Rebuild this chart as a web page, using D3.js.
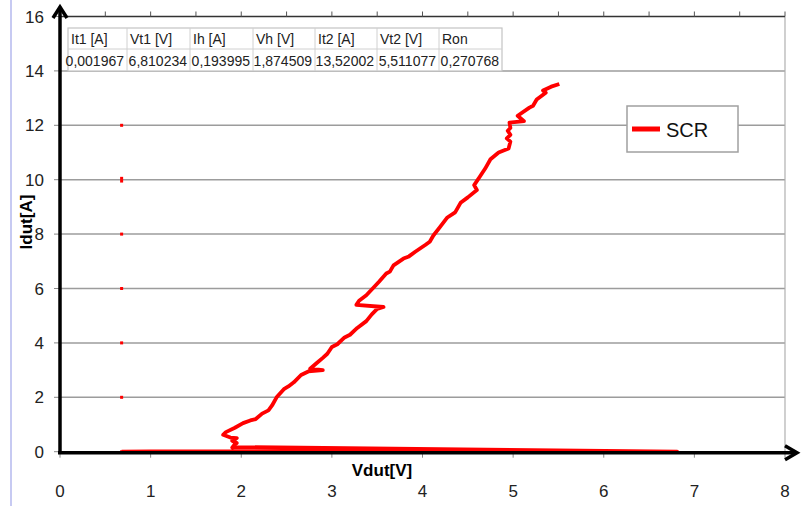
<!DOCTYPE html>
<html>
<head>
<meta charset="utf-8">
<script src="https://cdn.jsdelivr.net/npm/d3@7"></script>
<style>
  body { margin: 0; background: #fff; }
  svg { display: block; }
</style>
</head>
<body>
<script>
// axis ticks
const xTicks = [0, 1, 2, 3, 4, 5, 6, 7, 8];
const yTicks = [0, 2, 4, 6, 8, 10, 12, 14, 16];
const topMinorTicks = [0.5, 1, 1.5, 2, 2.5, 3, 3.5, 4, 4.5, 5, 5.5, 6, 6.5, 7, 7.5, 8];

// SCR curve (Vdut in V, Idut in A)
const scrV = [0.68, 1.0, 2.0, 4.0, 6.81,
  1.95, 1.90, 1.93, 1.95, 1.90, 1.95, 1.88, 1.80, 1.83, 1.93, 2.02, 2.10, 2.16, 2.23, 2.30, 2.34, 2.39,
  2.47, 2.52, 2.58, 2.66, 2.74, 2.90, 2.76, 2.83, 2.90, 2.95, 3.00, 3.06, 3.14, 3.20, 3.28, 3.38, 3.44, 3.50,
  3.57, 3.27, 3.30, 3.38, 3.45, 3.52, 3.60, 3.64, 3.68, 3.79, 3.85, 3.92, 4.03, 4.08, 4.12, 4.19, 4.27, 4.36,
  4.42, 4.50, 4.60, 4.57, 4.63, 4.69, 4.75, 4.84, 4.95, 4.97, 4.93, 4.97, 4.94, 4.97, 4.96, 5.12, 5.05,
  5.18, 5.22, 5.26, 5.36, 5.33, 5.42, 5.51];
const scrI = [0.0, 0.01, 0.01, 0.005, 0.002,
  0.17, 0.15, 0.28, 0.32, 0.40, 0.50, 0.52, 0.62, 0.72, 0.88, 1.05, 1.15, 1.20, 1.40, 1.52, 1.70, 2.00,
  2.30, 2.40, 2.55, 2.82, 2.95, 3.00, 3.05, 3.25, 3.45, 3.60, 3.85, 3.95, 4.20, 4.30, 4.55, 4.80, 5.05, 5.25,
  5.32, 5.40, 5.55, 5.75, 6.00, 6.25, 6.55, 6.62, 6.85, 7.10, 7.18, 7.35, 7.60, 7.72, 7.95, 8.25, 8.60, 8.80,
  9.15, 9.35, 9.62, 9.80, 10.10, 10.40, 10.75, 11.00, 11.15, 11.40, 11.52, 11.65, 11.80, 11.90, 12.10, 12.15, 12.35,
  12.65, 12.72, 12.95, 13.20, 13.28, 13.42, 13.52];

// stray single points at the left
const dotV = [0.68, 0.68, 0.68, 0.68, 0.68, 0.68, 0.68, 0.68];
const dotI = [0, 2, 4, 6, 8, 9.95, 10.05, 12];

// parameter table
const tableHeaders = ["It1 [A]", "Vt1 [V]", "Ih [A]", "Vh [V]", "It2 [A]", "Vt2 [V]", "Ron"];
const tableValues = ["0,001967", "6,810234", "0,193995", "1,874509", "13,52002", "5,511077", "0,270768"];

const seriesName = "SCR";

var svg = d3.select("body").append("svg")
  .attr("width", 806)
  .attr("height", 506);

var x = d3.scaleLinear().domain([0, 8]).range([60, 785]);
var y = d3.scaleLinear().domain([0, 16]).range([451.7, 16.5]);

// left page edge line
svg.append("line")
  .attr("x1", 11).attr("x2", 11).attr("y1", 0).attr("y2", 506)
  .attr("stroke", "#b4b9ee").attr("stroke-width", 1.5);

// horizontal gridlines
svg.selectAll("grid")
  .data(yTicks.filter((d) => d > 0 && d < 16))
  .enter()
  .append("line")
  .attr("x1", x(0)).attr("x2", x(8))
  .attr("y1", (d) => y(d)).attr("y2", (d) => y(d))
  .attr("stroke", "#9c9c9c").attr("stroke-width", 1.5);

// right border of plot area
svg.append("line")
  .attr("x1", x(8)).attr("x2", x(8)).attr("y1", y(16)).attr("y2", y(0))
  .attr("stroke", "#b0b0b0").attr("stroke-width", 1.2);

// top line with minor ticks
svg.append("line")
  .attr("x1", x(0)).attr("x2", x(8)).attr("y1", y(16)).attr("y2", y(16))
  .attr("stroke", "#333").attr("stroke-width", 1.3);
svg.selectAll("topticks")
  .data(topMinorTicks)
  .enter()
  .append("line")
  .attr("x1", (d) => x(d)).attr("x2", (d) => x(d))
  .attr("y1", y(16)).attr("y2", y(16) - 5)
  .attr("stroke", "#555").attr("stroke-width", 1);

// bottom and left ticks
svg.selectAll("xticks")
  .data(xTicks)
  .enter()
  .append("line")
  .attr("x1", (d) => x(d)).attr("x2", (d) => x(d))
  .attr("y1", y(0)).attr("y2", y(0) + 6)
  .attr("stroke", "#888").attr("stroke-width", 1);
svg.selectAll("yticks")
  .data(yTicks)
  .enter()
  .append("line")
  .attr("x1", x(0) - 6).attr("x2", x(0))
  .attr("y1", (d) => y(d)).attr("y2", (d) => y(d))
  .attr("stroke", "#888").attr("stroke-width", 1);

// tick labels
svg.selectAll("xlabels")
  .data(xTicks)
  .enter()
  .append("text")
  .attr("x", (d) => x(d))
  .attr("y", 497)
  .attr("text-anchor", "middle")
  .style("font-family", "Liberation Sans, Arial, sans-serif")
  .style("font-size", "17px")
  .attr("fill", "#222")
  .text((d) => d);
svg.selectAll("ylabels")
  .data(yTicks)
  .enter()
  .append("text")
  .attr("x", 44)
  .attr("y", (d) => y(d) + 6)
  .attr("text-anchor", "end")
  .style("font-family", "Liberation Sans, Arial, sans-serif")
  .style("font-size", "17px")
  .attr("fill", "#222")
  .text((d) => d);

// axis titles
svg.append("text")
  .attr("x", 382).attr("y", 476)
  .attr("text-anchor", "middle")
  .style("font-family", "Liberation Sans, Arial, sans-serif")
  .style("font-size", "17px")
  .style("font-weight", "bold")
  .text("Vdut[V]");
svg.append("text")
  .attr("transform", "translate(32,222) rotate(-90)")
  .attr("text-anchor", "middle")
  .style("font-family", "Liberation Sans, Arial, sans-serif")
  .style("font-size", "17px")
  .style("font-weight", "bold")
  .text("Idut[A]");

// the SCR curve
var pts = scrV.map((v, i) => [v, scrI[i]]);
var line = d3.line().x((d) => x(d[0])).y((d) => y(d[1]));
svg.append("path")
  .datum(pts)
  .attr("d", line)
  .attr("fill", "none")
  .attr("stroke", "#ff0000")
  .attr("stroke-width", 3.8)
  .attr("stroke-linejoin", "round");

// stray points
svg.selectAll("dots")
  .data(dotV.map((v, i) => [v, dotI[i]]))
  .enter()
  .append("rect")
  .attr("x", (d) => x(d[0]) - 1.5)
  .attr("y", (d) => y(d[1]) - 1.5)
  .attr("width", 3).attr("height", 3)
  .attr("fill", "#ff0000");

// axes with arrows
svg.append("line")
  .attr("x1", x(0)).attr("x2", x(0)).attr("y1", y(0) + 2).attr("y2", 8)
  .attr("stroke", "#000").attr("stroke-width", 3.5);
svg.append("path")
  .attr("d", "M53,18 L60,7 L67,18")
  .attr("fill", "none").attr("stroke", "#000").attr("stroke-width", 3.5);
svg.append("line")
  .attr("x1", x(0) - 2).attr("x2", 796).attr("y1", y(0) + 1).attr("y2", y(0) + 1)
  .attr("stroke", "#000").attr("stroke-width", 3.5);
svg.append("path")
  .attr("d", "M785," + (y(0) - 6) + " L797," + (y(0) + 1) + " L785," + (y(0) + 8))
  .attr("fill", "none").attr("stroke", "#000").attr("stroke-width", 3.5);

// parameter table
var colEdges = [68, 127, 190, 253, 315, 377, 439, 502];
var tTop = 28, tMid = 49, tBot = 71;
var table = svg.append("g");
table.append("rect")
  .attr("x", colEdges[0]).attr("y", tTop)
  .attr("width", colEdges[7] - colEdges[0]).attr("height", tBot - tTop)
  .attr("fill", "#fff").attr("stroke", "#c4c4c4").attr("stroke-width", 1.2);
table.append("line")
  .attr("x1", colEdges[0]).attr("x2", colEdges[7]).attr("y1", tMid).attr("y2", tMid)
  .attr("stroke", "#d0d0d0");
table.selectAll("cols")
  .data(colEdges.slice(1, 7))
  .enter()
  .append("line")
  .attr("x1", (d) => d).attr("x2", (d) => d).attr("y1", tTop).attr("y2", tBot)
  .attr("stroke", "#d0d0d0");
table.selectAll("heads")
  .data(tableHeaders)
  .enter()
  .append("text")
  .attr("x", (d, i) => colEdges[i] + 3)
  .attr("y", tMid - 5)
  .style("font-family", "Liberation Sans Narrow, Arial Narrow, Liberation Sans, sans-serif")
  .style("font-size", "14px")
  .attr("fill", "#222")
  .text((d) => d);
table.selectAll("vals")
  .data(tableValues)
  .enter()
  .append("text")
  .attr("x", (d, i) => colEdges[i + 1] - 3)
  .attr("y", tBot - 5)
  .attr("text-anchor", "end")
  .style("font-family", "Liberation Sans Narrow, Arial Narrow, Liberation Sans, sans-serif")
  .style("font-size", "14px")
  .attr("fill", "#222")
  .text((d) => d);

// legend
var legend = svg.append("g");
legend.append("rect")
  .attr("x", 627).attr("y", 106).attr("width", 111).attr("height", 46)
  .attr("fill", "#fff").attr("stroke", "#a0a0a0").attr("stroke-width", 1.5);
legend.append("line")
  .attr("x1", 632).attr("x2", 660).attr("y1", 129).attr("y2", 129)
  .attr("stroke", "#ff0000").attr("stroke-width", 5);
legend.append("text")
  .attr("x", 666).attr("y", 137)
  .style("font-family", "Liberation Sans, Arial, sans-serif")
  .style("font-size", "20px")
  .attr("fill", "#111")
  .text(seriesName);
</script>
</body>
</html>
